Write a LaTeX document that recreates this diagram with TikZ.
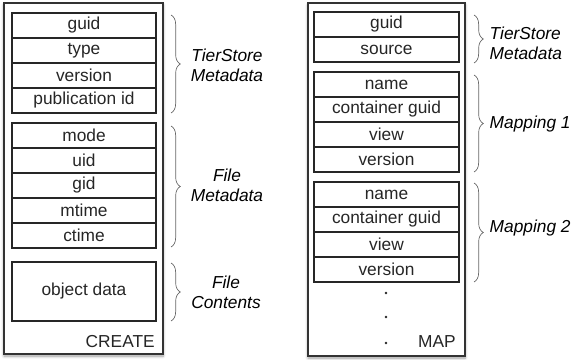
\documentclass[tikz,border=0pt]{standalone}
\usepackage{fontspec}
\setmainfont{Liberation Sans}
\usetikzlibrary{decorations.pathreplacing,shadows.blur}
\begin{document}
\begin{tikzpicture}[x=0.75pt,y=-0.75pt,
  outer/.style={draw=black!80, line width=0.9pt, fill=white, inner sep=0pt,
    blur shadow={shadow blur steps=6, shadow xshift=0pt, shadow yshift=-1.5pt, shadow opacity=40}},
  cell/.style={draw=black!85, line width=0.8pt, inner sep=0pt, minimum height=18.75pt,
    font=\fontsize{13}{15}\selectfont, text=black!85},
  lcell/.style={cell, minimum width=108pt},
  rcell/.style={cell, minimum width=108.75pt},
  grp/.style={draw=black!85, line width=0.9pt},
  brc/.style={decorate, decoration={brace, amplitude=7pt}, draw=black!60, line width=0.5pt},
  lab/.style={font=\fontsize{13}{15}\selectfont\itshape, align=center, text=black},
  rlab/.style={lab, align=left, anchor=west},
  plain/.style={font=\fontsize{13}{15}\selectfont, text=black!85, anchor=east, inner sep=0pt},
  dot/.style={circle, fill=black!85, inner sep=0pt, minimum size=2pt}
]
\useasboundingbox (0,0) rectangle (579,360);

% outer boxes
\node[outer, minimum width=119.25pt, minimum height=263.25pt] (lout) at (83.5,178.5) {};
\node[outer, minimum width=117.75pt, minimum height=264.75pt] (rout) at (386.5,179.5) {};

% left: TierStore metadata
\node[lcell] (lguid) at (84,25.5) {guid};
\node[lcell] (ltype) at (84,50.5) {type};
\node[lcell] (lver) at (84,75.5) {version};
\node[lcell] (lpub) at (84,100.5) {publication id};
\draw[grp] (lguid.north west) rectangle (lpub.south east);

% left: file metadata
\node[lcell] (lmode) at (84,135.5) {mode};
\node[lcell] (luid) at (84,160.5) {uid};
\node[lcell] (lgid) at (84,185.5) {gid};
\node[lcell] (lmtime) at (84,210.5) {mtime};
\node[lcell] (lctime) at (84,235.5) {ctime};
\draw[grp] (lmode.north west) rectangle (lctime.south east);

% left: file contents
\node[lcell, minimum height=44.25pt] (lobj) at (84,291.5) {object data};

\node[plain] (create) at (155,342) {CREATE};

% right: TierStore metadata
\node[rcell] (rguid) at (386.5,24.5) {guid};
\node[rcell] (rsrc) at (386.5,49.5) {source};
\draw[grp] (rguid.north west) rectangle (rsrc.south east);

% right: mapping 1
\node[rcell] (aname) at (386.5,84.5) {name};
\node[rcell] (acont) at (386.5,109.5) {container guid};
\node[rcell] (aview) at (386.5,134.5) {view};
\node[rcell] (aver) at (386.5,159.5) {version};
\draw[grp] (aname.north west) rectangle (aver.south east);

% right: mapping 2
\node[rcell] (bname) at (386.5,194.5) {name};
\node[rcell] (bcont) at (386.5,219.5) {container guid};
\node[rcell] (bview) at (386.5,244.5) {view};
\node[rcell] (bver) at (386.5,269.5) {version};
\draw[grp] (bname.north west) rectangle (bver.south east);

% dots and MAP
\node[dot] (d1) at (386,293) {};
\node[dot] (d2) at (386,317) {};
\node[dot] (d3) at (386,343) {};
\node[plain] (map) at (456,342) {MAP};

% braces left
\coordinate (b1t) at (171,15);  \coordinate (b1b) at (171,113);
\coordinate (b2t) at (171,126); \coordinate (b2b) at (171,247);
\coordinate (b3t) at (171,263); \coordinate (b3b) at (171,321);
\draw[brc] (b1t) -- (b1b);
\draw[brc] (b2t) -- (b2b);
\draw[brc] (b3t) -- (b3b);

% braces right
\coordinate (c1t) at (474,15);  \coordinate (c1b) at (474,63);
\coordinate (c2t) at (474,75);  \coordinate (c2b) at (474,172);
\coordinate (c3t) at (474,183); \coordinate (c3b) at (474,282);
\draw[brc] (c1t) -- (c1b);
\draw[brc] (c2t) -- (c2b);
\draw[brc] (c3t) -- (c3b);

% labels
\node[lab] (l1) at (227,65) {TierStore\\Metadata};
\node[lab] (l2) at (227,185) {File\\Metadata};
\node[lab] (l3) at (226,292) {File\\Contents};
\node[rlab] (r1) at (485,43) {TierStore\\Metadata};
\node[rlab] (r2) at (485,124) {Mapping 1};
\node[rlab] (r3) at (485,228) {Mapping 2};
\end{tikzpicture}
\end{document}
